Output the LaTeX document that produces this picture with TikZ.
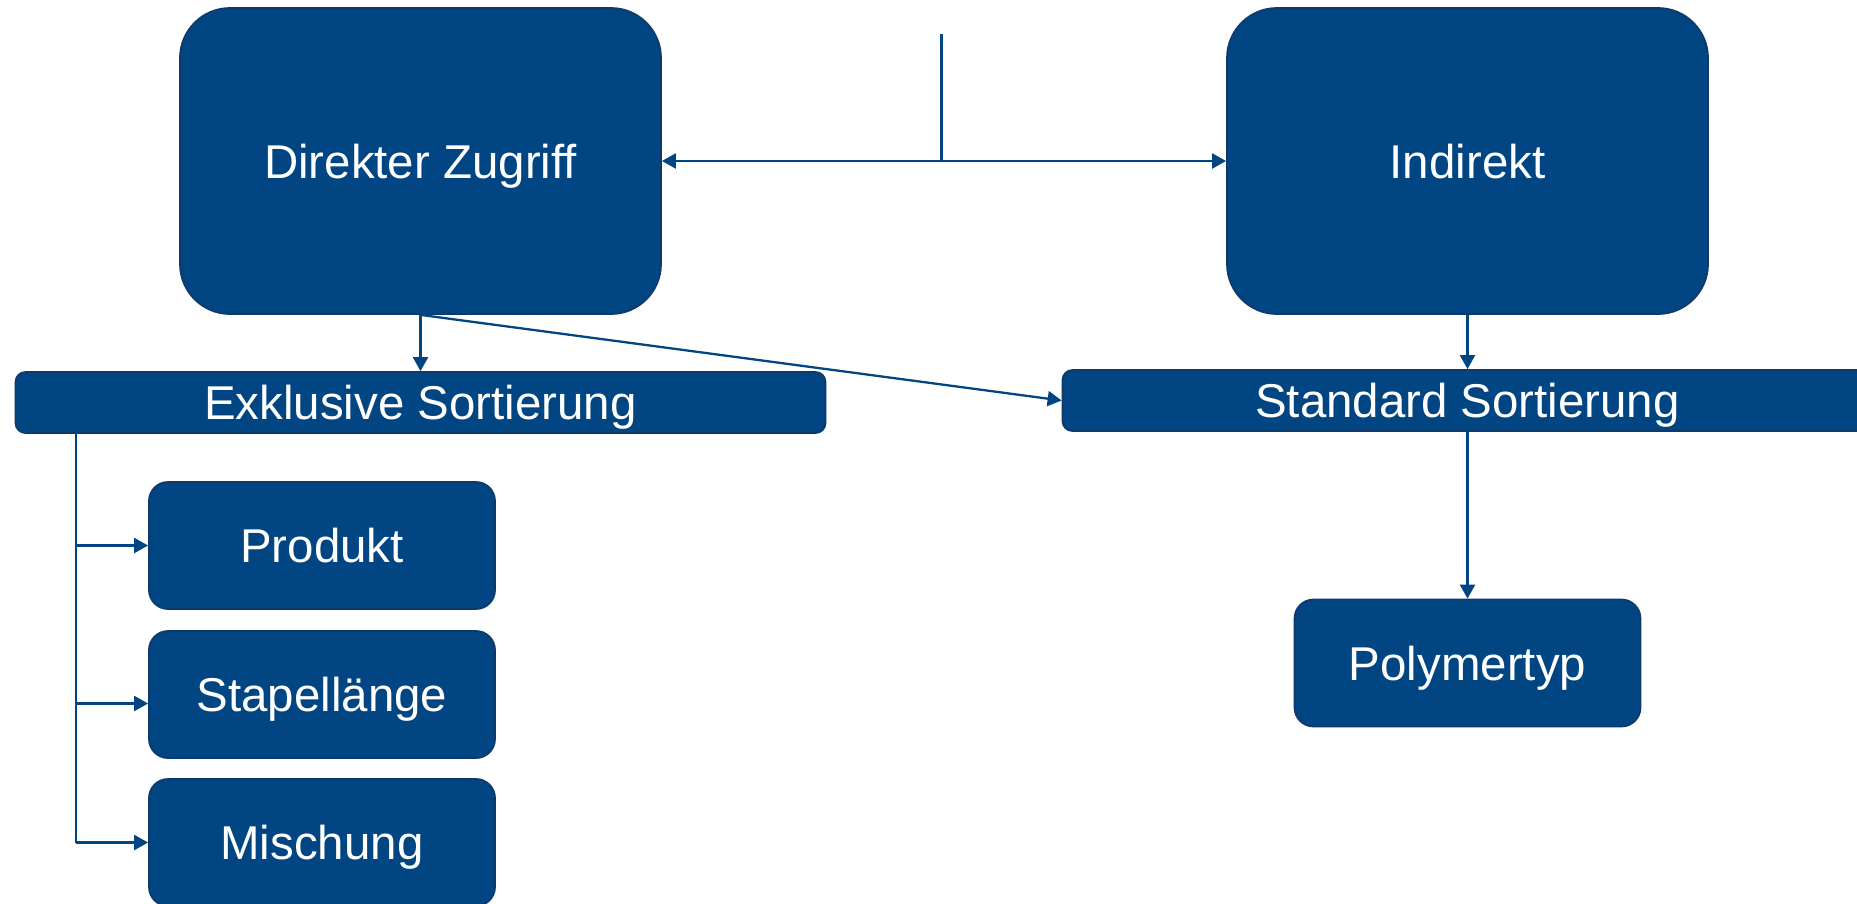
\documentclass[tikz,border=0pt]{standalone}
\usepackage{fontspec}
\setmainfont{Liberation Sans}
\usepackage{tikz}
\usetikzlibrary{shapes,arrows,arrows.meta,positioning}

\definecolor{boxblue}{RGB}{1,69,131}
\definecolor{boxline}{RGB}{14,58,107}

\begin{document}
\begin{tikzpicture}[
    box/.style={draw=boxline, line width=1pt, fill=boxblue, text=white,
        font=\fontsize{27}{32}\selectfont, inner sep=0pt, text depth=0pt},
    bigbox/.style={box, rounded corners=1cm, minimum width=9.62cm, minimum height=6.12cm},
    barbox/.style={box, rounded corners=0.2cm, minimum width=16.2cm, minimum height=1.22cm},
    smallbox/.style={box, rounded corners=0.38cm, minimum width=6.92cm, minimum height=2.54cm},
    conn/.style={draw=boxblue, line width=1.3pt},
    arr/.style={conn, -{Triangle[width=0.3cm,length=0.28cm]}},
    dblarr/.style={conn, {Triangle[width=0.3cm,length=0.28cm]}-{Triangle[width=0.3cm,length=0.28cm]}}
]
    \useasboundingbox (0,0) rectangle (37.14,-18.06);

    % Zugriff
    \node[bigbox] (direkt) at (8.41,-3.22) {Direkter Zugriff};
    \node[bigbox] (indirekt) at (29.35,-3.22) {Indirekt};

    % Sortierung
    \node[barbox] (exklusiv) at (8.41,-8.05) {Exklusive Sortierung};
    \node[barbox] (standard) at (29.35,-8.01) {Standard Sortierung};

    % Kriterien
    \node[smallbox] (produkt) at (6.44,-10.91) {Produkt};
    \node[smallbox] (stapel) at (6.44,-13.89) {Stapellänge};
    \node[smallbox] (mischung) at (6.44,-16.85) {Mischung};
    \node[smallbox] (polymer) at (29.35,-13.26) {Polymertyp};

    % Verbindungen oben
    \coordinate (top) at (18.83,-0.68);
    \draw[conn] (top) -- (top |- direkt.east);
    \draw[dblarr] (direkt.east) -- (indirekt.west);

    \draw[arr] (direkt.south) -- (exklusiv.north);
    \draw[arr] (direkt.south) -- (standard.west);
    \draw[arr] (indirekt.south) -- (standard.north);
    \draw[arr] (standard.south) -- (polymer.north);

    % Verteiler links
    \coordinate (bus) at (1.52,-8.66);
    \draw[conn] (bus) -- (bus |- mischung.west);
    \draw[arr] (bus |- produkt.west) -- (produkt.west);
    \draw[arr] (bus |- stapel.west) ++(0,-0.18) -- ([yshift=-0.18cm]stapel.west);
    \draw[arr] (bus |- mischung.west) -- (mischung.west);
\end{tikzpicture}
\end{document}
